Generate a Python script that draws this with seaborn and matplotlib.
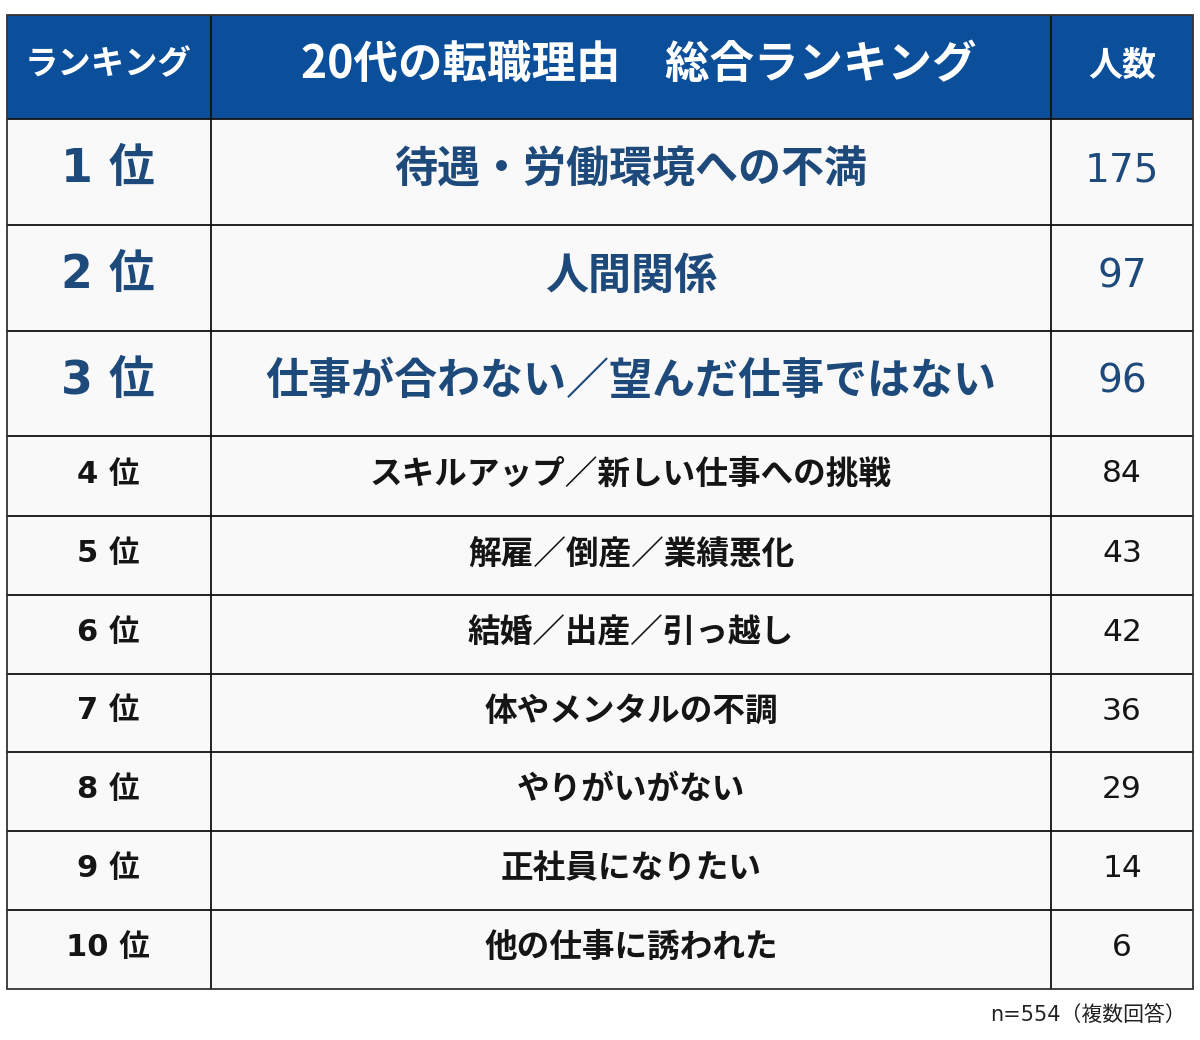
import matplotlib
matplotlib.use("Agg")
import matplotlib.pyplot as plt
import seaborn as sns
from matplotlib.patches import Rectangle

# ---- data ----
ranks = [1, 2, 3, 4, 5, 6, 7, 8, 9, 10]
reasons = [
    "待遇・労働環境への不満",
    "人間関係",
    "仕事が合わない／望んだ仕事ではない",
    "スキルアップ／新しい仕事への挑戦",
    "解雇／倒産／業績悪化",
    "結婚／出産／引っ越し",
    "体やメンタルの不調",
    "やりがいがない",
    "正社員になりたい",
    "他の仕事に誘われた",
]
counts = [175, 97, 96, 84, 43, 42, 36, 29, 14, 6]
header_labels = ["ランキング", "20代の転職理由　総合ランキング", "人数"]
footnote = "n=554（複数回答）"

sns.set_theme(style="white")
plt.rcParams['font.family'] = ['Noto Sans CJK JP', 'DejaVu Sans']
LATIN_FIRST = ['DejaVu Sans', 'Noto Sans CJK JP']

HEADER_BLUE = "#0b4f9a"
NAVY = "#1d4a7a"
BLACK = "#151515"
CELL_BG = "#f9f9f9"

fig = plt.figure(figsize=(12, 10.4), dpi=100)
ax = fig.add_axes([0, 0, 1, 1])
ax.set_xlim(0, 1200)
ax.set_ylim(1040, 0)
ax.axis("off")

x_left, x_c1, x_c2, x_right = 7, 211, 1051, 1193
y_top, y_head = 15, 119
row_edges = [119, 225, 331, 436, 516, 595, 674, 752, 831, 910, 989]

# header background
ax.add_patch(Rectangle((x_left, y_top), x_right - x_left, y_head - y_top,
                       facecolor=HEADER_BLUE, edgecolor="none", zorder=1))
# body background
ax.add_patch(Rectangle((x_left, y_head), x_right - x_left, row_edges[-1] - y_head,
                       facecolor=CELL_BG, edgecolor="none", zorder=1))

# grid lines
lw = 1.3
for y in row_edges[1:-1]:
    ax.plot([x_left, x_right], [y, y], color="#111111", lw=lw, zorder=3)
ax.plot([x_left, x_right], [y_head, y_head], color="#111111", lw=lw, zorder=3)
for x in (x_c1, x_c2):
    ax.plot([x, x], [y_top, row_edges[-1]], color="#111111", lw=lw, zorder=3)
ax.add_patch(Rectangle((x_left, y_top), x_right - x_left, row_edges[-1] - y_top,
                       facecolor="none", edgecolor="#333333", lw=lw, zorder=4))

cx = [(x_left + x_c1) / 2 - 1, (x_c1 + x_c2) / 2, (x_c2 + x_right) / 2]
hy = (y_top + y_head) / 2 - 2
ax.text(cx[0], hy, header_labels[0], color="white", fontsize=24, fontweight="bold",
        ha="center", va="center", zorder=5)
ax.text(cx[1] + 8, hy, header_labels[1], color="white", fontsize=32, fontweight="bold",
        ha="center", va="center", zorder=5)
ax.text(cx[2], hy, header_labels[2], color="white", fontsize=24.5, fontweight="bold",
        ha="center", va="center", zorder=5)

for i, (r, reason, c) in enumerate(zip(ranks, reasons, counts)):
    yc = (row_edges[i] + row_edges[i + 1]) / 2 - 2
    if r <= 3:
        col, fs_rank, fs_txt, fs_num = NAVY, 33, 31, 28
    else:
        col, fs_rank, fs_txt, fs_num = BLACK, 22, 23.5, 22.5
    ax.text(cx[0], yc, f"{r} 位", color=col, fontsize=fs_rank, fontweight="bold",
            family=LATIN_FIRST, ha="center", va="center", zorder=5)
    ax.text(cx[1], yc, reason, color=col, fontsize=fs_txt, fontweight="bold",
            ha="center", va="center", zorder=5)
    ax.text(cx[2], yc, str(c), color=col, fontsize=fs_num, fontweight="normal",
            family=LATIN_FIRST, ha="center", va="center", zorder=5)

ax.text(1186, 1015, footnote, color="#222222", fontsize=15, family=LATIN_FIRST,
        ha="right", va="center", zorder=5)

fig.savefig("out.png", dpi=100, facecolor="white")
